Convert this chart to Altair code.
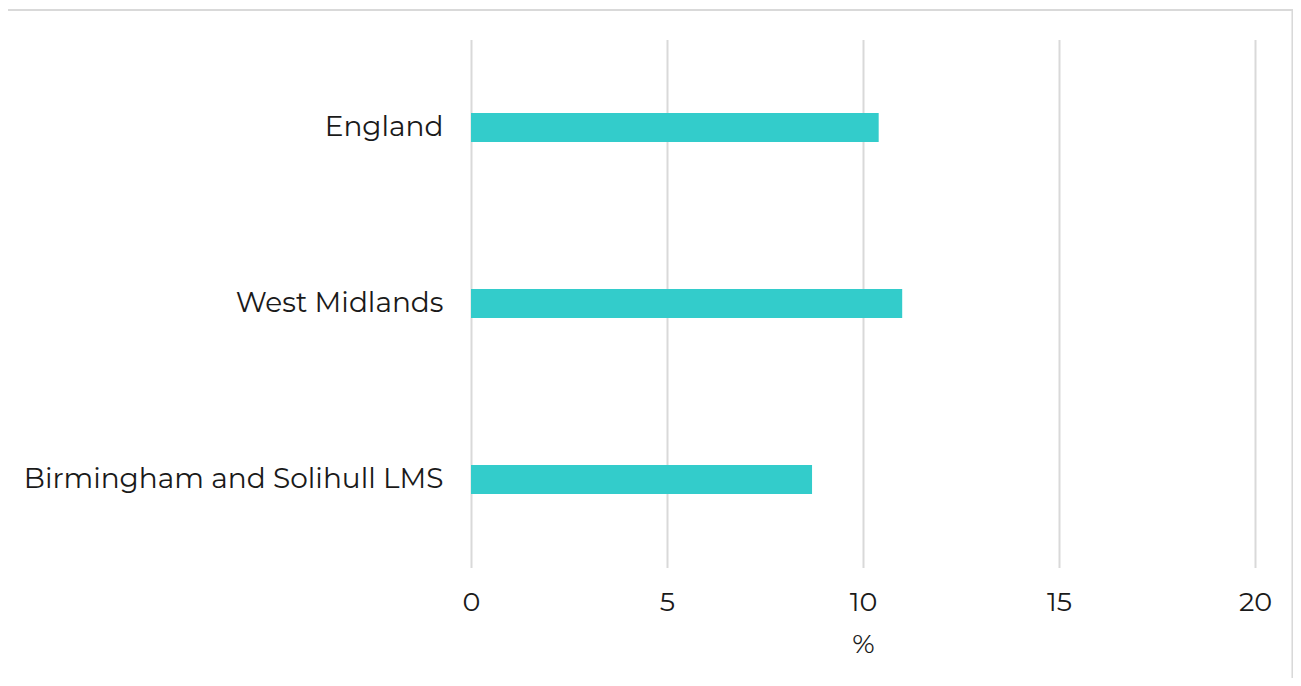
import altair as alt
import pandas as pd

areas = ["England", "West Midlands", "Birmingham and Solihull LMS"]
values = [10.4, 11.0, 8.7]
ticks = [0, 5, 10, 15, 20]

df = pd.DataFrame({"area": areas, "value": values})

FONT = "Montserrat, DejaVu Sans, sans-serif"
TXT = "#1a1a1a"

bars = alt.Chart(df).mark_bar(color="#33cccb", size=29).encode(
    x=alt.X("value:Q", scale=alt.Scale(domain=[0, 20], nice=False),
            axis=alt.Axis(values=ticks, title="%", grid=True, gridColor="#d9d9d9", gridWidth=2,
                          domain=False, ticks=False, labelFontSize=27, labelFont=FONT,
                          labelColor=TXT, labelPadding=22, labelFlush=False, titleFont=FONT,
                          titleFontSize=27, titleFontWeight="normal", titleColor=TXT,
                          titlePadding=16)),
    y=alt.Y("area:N", sort=areas,
            axis=alt.Axis(title=None, domain=False, ticks=False, grid=False,
                          labelFontSize=28, labelFont=FONT, labelColor=TXT,
                          labelPadding=28, labelLimit=600)),
)

frame = alt.Chart(df).mark_rect(fill=None, stroke="#d9d9d9", strokeWidth=1.5).encode(
    x=alt.value(-464), x2=alt.value(821.5), y=alt.value(-29.5), y2=alt.value(700)
)

chart = alt.layer(frame, bars).properties(
    width=784, height=528,
    autosize=alt.AutoSizeParams(type="none"),
    padding={"left": 463, "top": 31.5, "right": 38, "bottom": 110},
).configure_view(stroke=None)

chart.save("out.html", embed_options={"renderer": "svg", "actions": False})
